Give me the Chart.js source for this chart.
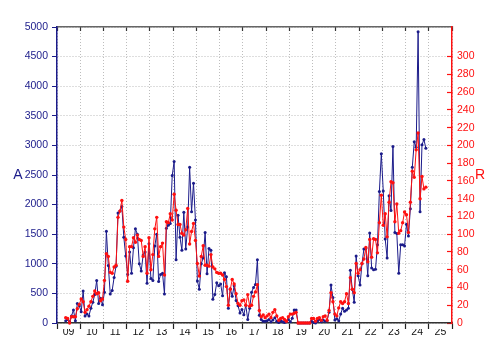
<!DOCTYPE html>
<html lang="en">
<head>
  <meta charset="UTF-8" />
  <title>A / R monthly</title>
  <script src="https://cdn.jsdelivr.net/npm/chart.js"></script>
  <style>
    html, body { margin: 0; padding: 0; background: #fff; }
    #wrap { width: 500px; height: 360px; }
  </style>
</head>
<body>
  <div id="wrap"><canvas id="chart" width="500" height="360"></canvas></div>
  <script>
    // monthly values, first point is May 2009, last is Nov 2024
    const startYear = 2009;
    const startMonth = 5;

    const seriesA = [
      40, 60, 20, 120, 220, 40, 330, 290,                              // 2009
      190, 540, 120, 150, 120, 250, 350, 480, 720, 330, 420, 310,      // 2010
      520, 1550, 970, 490, 550, 770, 960, 1860, 1890, 1970, 1450, 1130, // 2011
      820, 1200, 840, 1270, 1590, 1500, 1000, 880, 1150, 1200, 670, 1340, // 2012
      750, 720, 1300, 1500, 700, 820, 840, 490, 1600, 1650, 1680, 2490,  // 2013
      2730, 1070, 1820, 1450, 1230, 1870, 1250, 1620, 2630, 1880, 2360, 1740, // 2014
      710, 570, 1000, 1100, 1530, 830, 1260, 1230, 400, 480, 680, 630,  // 2015
      660, 460, 850, 780, 250, 580, 450, 630, 380, 290, 170, 230,       // 2016
      140, 300, 60, 250, 520, 600, 650, 1070, 130, 60, 30, 30,          // 2017
      40, 60, 20, 50, 90, 30, 10, 40, 20, 10, 20, 60,                   // 2018
      20, 80, 220, 220, 0, 0, 0, 0, 0, 0, 0, 30,                        // 2019
      10, 0, 30, 60, 20, 50, 30, 40, 180, 640, 430, 50,                 // 2020
      70, 40, 150, 250, 200, 220, 250, 890, 570, 350, 1130, 800,        // 2021
      640, 1000, 1250, 1260, 800, 1520, 930, 900, 910, 1320, 2220, 2860, // 2022
      2230, 1420, 1100, 2150, 1900, 2980, 1530, 1510, 840, 1320, 1320, 1300, // 2023
      1670, 1470, 1930, 2630, 3060, 2970, 4920, 1880, 3010, 3100, 2950  // 2024
    ];

    const seriesR = [
      6, 5, 0, 7, 7, 7, 16, 21,
      27, 24, 12, 15, 19, 24, 30, 36, 33, 34, 25, 27,
      48, 78, 75, 57, 56, 63, 65, 119, 126, 138, 108, 94,
      47, 86, 86, 96, 91, 99, 94, 93, 75, 86, 56, 96,
      60, 77, 106, 119, 75, 86, 90, 54, 114, 113, 123, 116,
      145, 127, 111, 111, 101, 99, 105, 129, 89, 103, 112, 93,
      67, 53, 75, 87, 65, 65, 64, 77, 63, 61, 57, 56,
      56, 54, 49, 41, 20, 38, 49, 44, 33, 22, 20, 25,
      26, 20, 32, 19, 20, 30, 35, 43, 14, 7, 9, 6,
      8, 10, 6, 12, 15, 8, 3, 5, 6, 4, 2, 7,
      10, 10, 11, 12, 0, 0, 0, 0, 0, 0, 0, 5,
      5, 2, 5, 6, 3, 7, 8, 3, 14, 34, 24, 10,
      8, 17, 24, 22, 24, 33, 22, 51, 38, 34, 67, 56,
      60, 67, 72, 85, 69, 94, 74, 95, 94, 79, 113, 144,
      110, 123, 97, 136, 159, 158, 114, 134, 101, 104, 113, 125,
      122, 102, 136, 171, 164, 195, 214, 140, 165, 151, 153
    ];

    const yearTicks = [2009, 2010, 2011, 2012, 2013, 2014, 2015, 2016, 2017,
      2018, 2019, 2020, 2021, 2022, 2023, 2024, 2025, 2026];
    const yearLabels = ['09', '10', '11', '12', '13', '14', '15', '16', '17',
      '18', '19', '20', '21', '22', '23', '24', '25'];

    const navy = '#1b1b8a';
    const red = '#ff1010';
    const gridGray = '#bdbdbd';
    const font = { family: '"Liberation Sans", Arial, sans-serif', size: 10.5 };

    // month index -> decimal year, centred in the month
    const monthX = i => startYear + (startMonth - 1 + i + 0.5) / 12;
    const toPoints = arr => arr.map((v, i) => ({ x: monthX(i), y: v }));

    const axisTitles = {
      id: 'axisTitles',
      afterDraw(chart) {
        const { ctx, chartArea } = chart;
        const midY = (chartArea.top + chartArea.bottom) / 2;
        ctx.save();
        ctx.font = '14px "Liberation Sans", Arial, sans-serif';
        ctx.textAlign = 'center';
        ctx.textBaseline = 'middle';
        ctx.fillStyle = navy;
        ctx.fillText('A', chartArea.left - 39, midY);
        ctx.fillStyle = red;
        ctx.fillText('R', chartArea.right + 28, midY);
        ctx.restore();
      }
    };

    const setYears = scale => { scale.ticks = yearTicks.map(v => ({ value: v })); };

    new Chart(document.getElementById('chart').getContext('2d'), {
      type: 'line',
      data: {
        datasets: [
          {
            label: 'R',
            data: toPoints(seriesR),
            yAxisID: 'y2',
            xAxisID: 'x',
            borderColor: red,
            backgroundColor: red,
            borderWidth: 1,
            pointRadius: 1.7,
            pointBorderWidth: 0,
            tension: 0,
            clip: 4,
            order: 0
          },
          {
            label: 'A',
            data: toPoints(seriesA),
            yAxisID: 'y',
            xAxisID: 'x',
            borderColor: navy,
            backgroundColor: navy,
            borderWidth: 1,
            pointRadius: 1.5,
            pointBorderWidth: 0,
            tension: 0,
            clip: 4,
            order: 1
          }
        ]
      },
      options: {
        responsive: false,
        animation: false,
        layout: { padding: 0 },
        plugins: { legend: { display: false }, tooltip: { enabled: false } },
        scales: {
          x: {
            type: 'linear',
            position: 'bottom',
            min: 2009,
            max: 2026,
            weight: 0,
            afterBuildTicks: setYears,
            afterFit: s => { s.height = 6; },
            ticks: { display: false },
            grid: { color: gridGray, tickColor: '#222', tickLength: 6, tickWidth: 1.2 },
            border: { color: '#333', width: 1.5, dash: [1, 2] }
          },
          xLab: {
            type: 'linear',
            position: 'bottom',
            min: 2009,
            max: 2026,
            weight: 1,
            afterBuildTicks: s => { s.ticks = yearLabels.map((t, i) => ({ value: yearTicks[i] + 0.5 })); },
            afterFit: s => { s.height = 31; },
            ticks: {
              autoSkip: false,
              maxRotation: 0,
              padding: -3,
              color: '#111',
              font,
              callback: (v, i) => yearLabels[i]
            },
            grid: { display: false, drawTicks: false },
            border: { display: false }
          },
          xTop: {
            type: 'linear',
            position: 'top',
            min: 2009,
            max: 2026,
            afterBuildTicks: setYears,
            afterFit: s => { s.height = 27; },
            ticks: { display: false },
            grid: { drawOnChartArea: false, tickColor: '#333', tickLength: -4, tickWidth: 1.2 },
            border: { color: '#666', width: 1.5 }
          },
          y: {
            position: 'left',
            min: 0,
            max: 5000,
            afterFit: s => { s.width = 57; },
            ticks: { stepSize: 500, color: navy, font, padding: 4, callback: v => String(v) },
            grid: { color: gridGray, tickColor: navy, tickLength: 5 },
            border: { color: navy, width: 1.5, dash: [1, 2] }
          },
          y2: {
            position: 'right',
            min: 0,
            max: 5000 / 15,
            afterFit: s => { s.width = 48; },
            afterBuildTicks: s => { s.ticks = s.ticks.filter(t => t.value <= 320); },
            ticks: { stepSize: 20, color: red, font, padding: 10, callback: v => String(v) },
            grid: { drawOnChartArea: false, tickColor: red, tickLength: -5, tickWidth: 1.2 },
            border: { color: red, width: 1.5 }
          }
        }
      },
      plugins: [axisTitles]
    });
  </script>
</body>
</html>
